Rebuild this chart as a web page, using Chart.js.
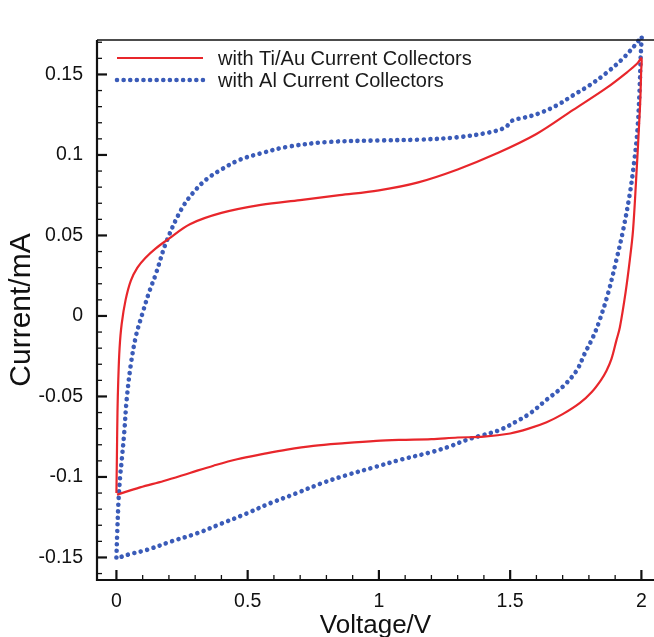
<!DOCTYPE html>
<html>
<head>
<meta charset="utf-8">
<script src="https://cdn.jsdelivr.net/npm/chart.js@4.4.1/dist/chart.umd.min.js"></script>
<style>
  html, body { margin: 0; padding: 0; background: #fff; }
  #wrap { width: 654px; height: 637px; }
</style>
</head>
<body>
<div id="wrap"><canvas id="cv"></canvas></div>
<script>
// Ti/Au current collectors: forward sweep 0 -> 2 V, then back to 0 V
const tiAuVoltage = [
  0.000, 0.002, 0.004, 0.007, 0.012, 0.020, 0.035, 0.055, 0.080, 0.110, 0.150, 0.200, 0.280, 0.400, 0.550, 0.700, 0.850, 1.000,
  1.150, 1.300, 1.450, 1.600, 1.740, 1.870, 1.950, 1.985, 2.000,
  1.999, 1.996, 1.990, 1.980, 1.968, 1.956, 1.940, 1.918, 1.905, 1.886, 1.867, 1.846, 1.811, 1.766, 1.700, 1.639, 1.570, 1.500,
  1.400, 1.300, 1.200, 1.080, 0.990, 0.870, 0.750, 0.650, 0.560, 0.460, 0.370, 0.280, 0.180, 0.090, 0.002
];
const tiAuCurrent = [
  -0.110, -0.085, -0.060, -0.040, -0.020, -0.005, 0.010, 0.022, 0.030, 0.036, 0.042, 0.048, 0.057, 0.064, 0.069, 0.072, 0.075, 0.078,
  0.083, 0.091, 0.101, 0.113, 0.128, 0.142, 0.152, 0.157, 0.160,
  0.152, 0.135, 0.115, 0.085, 0.053, 0.035, 0.015, -0.007, -0.015, -0.0267, -0.034, -0.0398, -0.0472, -0.054, -0.061, -0.066, -0.070, -0.073,
  -0.075, -0.0755, -0.0765, -0.077, -0.0776, -0.079, -0.0807, -0.083, -0.0857, -0.089, -0.093, -0.0975, -0.1025, -0.1065, -0.111
];

// Al current collectors
const alVoltage = [
  0.000, 0.003, 0.008, 0.014, 0.020, 0.030, 0.039, 0.055, 0.075, 0.100, 0.125, 0.150, 0.190, 0.250, 0.300, 0.344, 0.400, 0.470,
  0.550, 0.650, 0.800, 1.000, 1.150, 1.300, 1.420, 1.480, 1.510, 1.550, 1.613, 1.680, 1.739, 1.800, 1.867, 1.930, 1.985, 2.000,
  1.999, 1.997, 1.993, 1.985, 1.972, 1.955, 1.930, 1.905, 1.873, 1.840, 1.816, 1.785, 1.753, 1.700, 1.639, 1.580, 1.530, 1.461,
  1.385, 1.334, 1.270, 1.206, 1.080, 0.990, 0.878, 0.780, 0.688, 0.590, 0.497, 0.400, 0.307, 0.210, 0.116, 0.050, 0.002
];
const alCurrent = [
  -0.150, -0.135, -0.115, -0.100, -0.090, -0.072, -0.052, -0.030, -0.012, 0.002, 0.015, 0.026, 0.046, 0.067, 0.078, 0.085, 0.091, 0.097,
  0.101, 0.105, 0.108, 0.109, 0.1095, 0.111, 0.114, 0.117, 0.1215, 0.123, 0.126, 0.131, 0.137, 0.143, 0.151, 0.160, 0.170, 0.1735,
  0.167, 0.160, 0.140, 0.1155, 0.095, 0.075, 0.053, 0.035, 0.014, -0.003, -0.013, -0.023, -0.034, -0.044, -0.052, -0.060, -0.065, -0.0708,
  -0.0745, -0.077, -0.081, -0.0843, -0.0894, -0.0936, -0.0988, -0.104, -0.110, -0.116, -0.1226, -0.129, -0.135, -0.140, -0.1453, -0.148, -0.1505
];

const seriesNames = ['with Ti/Au Current Collectors', 'with Al Current Collectors'];

const xTickValues = [0, 0.5, 1, 1.5, 2];
const xTickLabels = ['0', '0.5', '1', '1.5', '2'];
const yTickValues = [-0.15, -0.1, -0.05, 0, 0.05, 0.1, 0.15];
const yTickLabels = ['-0.15', '-0.1', '-0.05', '0', '0.05', '0.1', '0.15'];

const toPoints = (xs, ys) => xs.map((x, i) => ({ x: x, y: ys[i] }));

const FONT = 'Arial, "Liberation Sans", Helvetica, sans-serif';

// axis frame + inward major/minor ticks
const frameTicks = {
  id: 'frameTicks',
  afterDraw(chart) {
    const ctx = chart.ctx;
    const a = chart.chartArea;
    const xs = chart.scales.x, ys = chart.scales.y;
    ctx.save();
    ctx.strokeStyle = '#111';
    // top border (thin)
    ctx.lineWidth = 1.3;
    ctx.beginPath();
    ctx.moveTo(a.left, a.top);
    ctx.lineTo(a.right, a.top);
    ctx.stroke();
    // left and bottom axes
    ctx.lineWidth = 2.2;
    ctx.beginPath();
    ctx.moveTo(a.left, a.top);
    ctx.lineTo(a.left, a.bottom);
    ctx.lineTo(a.right, a.bottom);
    ctx.stroke();

    for (let i = 0; i <= 20; i++) {
      const px = xs.getPixelForValue(i / 10);
      const major = i % 5 === 0;
      ctx.lineWidth = major ? 2.2 : 1.3;
      ctx.beginPath();
      ctx.moveTo(px, a.bottom);
      ctx.lineTo(px, a.bottom - (major ? 10 : 5));
      ctx.stroke();
    }
    for (let i = -16; i <= 17; i++) {
      const py = ys.getPixelForValue(i / 100);
      const major = i % 5 === 0;
      ctx.lineWidth = major ? 2.2 : 1.3;
      ctx.beginPath();
      ctx.moveTo(a.left, py);
      ctx.lineTo(a.left + (major ? 10 : 5), py);
      ctx.stroke();
    }
    ctx.restore();
  }
};

// legend inside the plot, top-left
const insideLegend = {
  id: 'insideLegend',
  afterDraw(chart) {
    const ctx = chart.ctx;
    const a = chart.chartArea;
    ctx.save();
    chart.data.datasets.forEach((ds, i) => {
      const y = a.top + 18 + i * 22;
      ctx.strokeStyle = ds.borderColor;
      ctx.lineWidth = ds.borderWidth;
      ctx.lineCap = ds.borderCapStyle || 'butt';
      ctx.setLineDash(ds.borderDash || []);
      ctx.beginPath();
      ctx.moveTo(a.left + 20, y);
      ctx.lineTo(a.left + 106, y);
      ctx.stroke();
      ctx.setLineDash([]);
      ctx.fillStyle = '#1a1a1a';
      ctx.font = '20px ' + FONT;
      ctx.textBaseline = 'middle';
      ctx.textAlign = 'left';
      ctx.fillText(ds.label, a.left + 121, y + 1);
    });
    ctx.restore();
  }
};

new Chart(document.getElementById('cv'), {
  type: 'line',
  data: {
    datasets: [
      {
        label: seriesNames[0],
        data: toPoints(tiAuVoltage, tiAuCurrent),
        borderColor: '#e8262b',
        borderWidth: 2.2,
        pointRadius: 0,
        tension: 0.35,
        fill: false
      },
      {
        label: seriesNames[1],
        data: toPoints(alVoltage, alCurrent),
        borderColor: '#3a5bb8',
        borderWidth: 4.6,
        borderDash: [0.01, 6.6],
        borderCapStyle: 'round',
        pointRadius: 0,
        tension: 0.35,
        fill: false,
        clip: 8
      }
    ]
  },
  options: {
    responsive: true,
    maintainAspectRatio: false,
    animation: false,
    layout: { padding: { top: 40, right: 0, left: 0, bottom: 0 } },
    plugins: {
      legend: { display: false },
      tooltip: { enabled: false }
    },
    scales: {
      x: {
        type: 'linear',
        min: -0.074,
        max: 2.048,
        grid: { display: false },
        border: { display: false },
        afterBuildTicks: s => { s.ticks = xTickValues.map(v => ({ value: v })); },
        afterFit: s => { s.height = 57; },
        ticks: {
          autoSkip: false,
          maxRotation: 0,
          padding: 2,
          color: '#111',
          font: { family: FONT, size: 19.5 },
          callback: v => xTickLabels[xTickValues.indexOf(v)]
        },
        title: {
          display: true,
          text: 'Voltage/V',
          color: '#111',
          font: { family: FONT, size: 26, lineHeight: 1 },
          padding: { top: 0, bottom: -2 }
        }
      },
      y: {
        type: 'linear',
        min: -0.164,
        max: 0.1714,
        grid: { display: false },
        border: { display: false },
        afterBuildTicks: s => { s.ticks = yTickValues.map(v => ({ value: v })); },
        afterFit: s => { s.width = 97; },
        ticks: {
          autoSkip: false,
          padding: 6,
          color: '#111',
          font: { family: FONT, size: 19.5 },
          callback: v => yTickLabels[yTickValues.indexOf(v)]
        },
        title: {
          display: true,
          text: 'Current/mA',
          color: '#111',
          font: { family: FONT, size: 30, lineHeight: 1 },
          padding: { top: 7, bottom: 0 }
        }
      }
    }
  },
  plugins: [frameTicks, insideLegend]
});
</script>
</body>
</html>
